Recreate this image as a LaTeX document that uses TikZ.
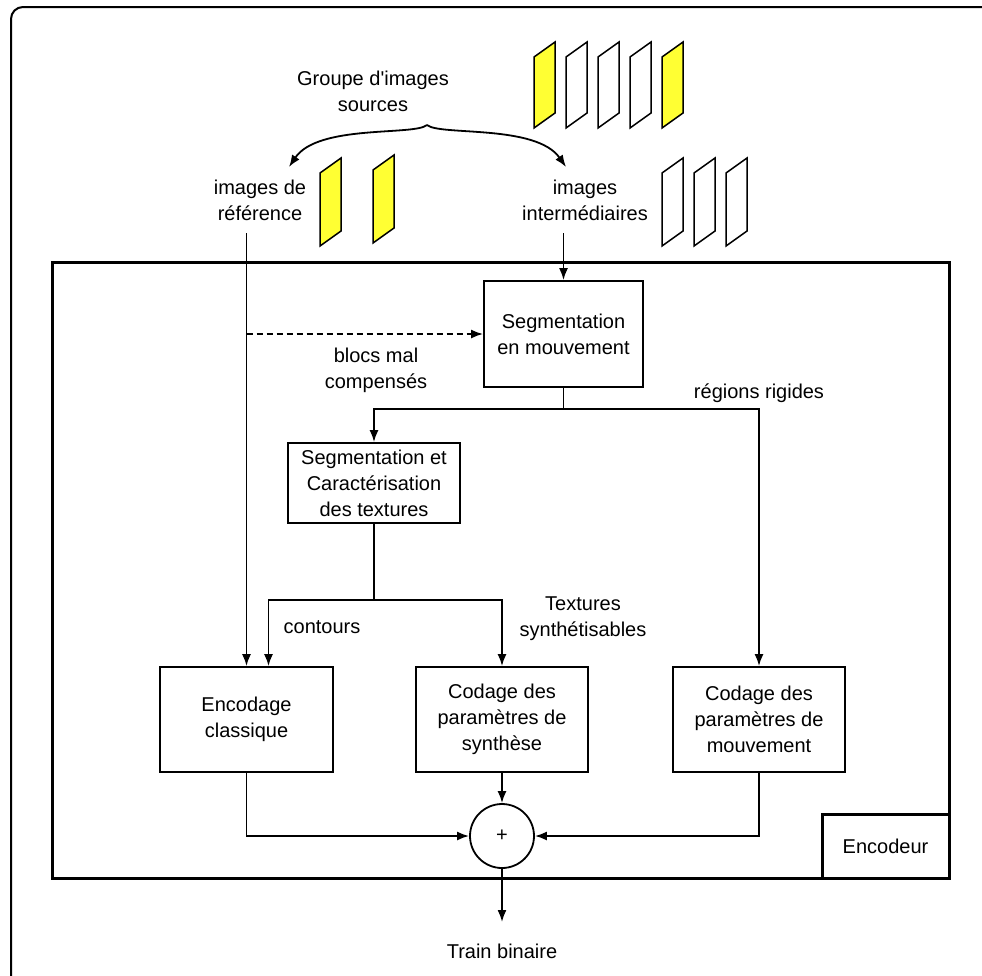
\documentclass[tikz,border=0pt]{standalone}
\usepackage{fontspec}
\setmainfont{Liberation Sans}
\usepackage{tikz}
\usetikzlibrary{
  arrows.meta,
  positioning,
  calc,
}
\definecolor{imgyellow}{HTML}{FFFF33}

\begin{document}
\begin{tikzpicture}[
    x=1pt, y=-1pt,
    block/.style={draw, line width=1.8pt, align=center, inner sep=0pt,
                  font=\fontsize{20}{26}\selectfont},
    txt/.style={align=center, inner sep=0pt, font=\fontsize{20}{26}\selectfont},
    arr/.style={-{Latex[length=12pt,width=9pt]}, line width=1.8pt},
    wire/.style={line width=1.8pt},
    img/.style={line width=1.5pt, line join=miter},
  ]
  \useasboundingbox (0,0) rectangle (982,975);
  \draw[line width=2pt, rounded corners=12pt] (11,7) rectangle (1000,995);

  % images sources
  \foreach \x/\c in {534/imgyellow, 566/white, 598/white, 630/white, 662/imgyellow}
    \draw[img, fill=\c] (\x,57) -- ++(21,-15) -- ++(0,71) -- ++(-21,15) -- cycle;
  \foreach \x/\y in {320/173, 373/170}
    \draw[img, fill=imgyellow] (\x,\y) -- ++(21,-15) -- ++(0,73) -- ++(-21,15) -- cycle;
  \foreach \x in {662, 694, 726}
    \draw[img, fill=white] (\x,173) -- ++(21,-15) -- ++(0,73) -- ++(-21,15) -- cycle;

  \node[txt] (group)  at (373,91)  {Groupe d\textquotesingle images\\sources};
  \node[txt] (refs)   at (260,200) {images de\\référence};
  \node[txt] (inters) at (585,200) {images\\intermédiaires};

  \coordinate (cusp) at (427,125);
  \draw[arr] (cusp) .. controls (414,136) and (318,124) .. (289,167);
  \draw[arr] (cusp) .. controls (440,136) and (536,124) .. (566,167);

  % encodeur
  \draw[line width=3pt] (52,262) rectangle (949,878);
  \node[block, line width=3pt, minimum width=127, minimum height=64] (encodeur)
    at (885.5,846) {Encodeur};

  \node[block, minimum width=159, minimum height=106] (seg) at (563.5,334)
    {Segmentation\\en mouvement};
  \node[block, minimum width=172, minimum height=80] (tex) at (374,483)
    {Segmentation et\\Caractérisation\\des textures};
  \node[block, minimum width=173, minimum height=105] (enc) at (246.5,719.5)
    {Encodage\\classique};
  \node[block, minimum width=172, minimum height=105] (syn) at (502,719.5)
    {Codage des\\paramètres de\\synthèse};
  \node[block, minimum width=172, minimum height=105] (mvt) at (759,719.5)
    {Codage des\\paramètres de\\mouvement};
  \node[draw, circle, line width=1.8pt, minimum size=64, inner sep=0pt,
        font=\fontsize{20}{26}\selectfont] (sum) at (502,836) {+};

  \node[txt] (blocs)    at (376,370) {blocs mal\\compensés};
  \node[txt] (rigid)    at (759,393) {régions rigides};
  \node[txt] (contours) at (322,627) {contours};
  \node[txt] (textures) at (583,619) {Textures\\synthétisables};
  \node[txt] (train)    at (502,951) {Train binaire};

  \coordinate (reftop)   at (246.5,233);
  \coordinate (intertop) at (563.5,233);
  \coordinate (split1)   at (563.5,409);
  \coordinate (split2)   at (374,600);
  \coordinate (out)      at (502,922);

  \draw[arr] (intertop) -- (seg.north);
  \draw[arr] (reftop) -- (enc.north);
  \draw[arr, dash pattern=on 6pt off 4pt] (reftop |- seg.west) -- (seg.west);

  \draw[wire] (seg.south) -- (split1);
  \draw[arr] (split1) -| (tex.north);
  \draw[arr] (split1) -| (mvt.north);

  \draw[wire] (tex.south) -- (split2);
  \draw[arr] (split2) -| ([xshift=22pt]enc.north);
  \draw[arr] (split2) -| (syn.north);

  \draw[arr] (enc.south) |- (sum.west);
  \draw[arr] (mvt.south) |- (sum.east);
  \draw[arr] (syn.south) -- (sum.north);
  \draw[arr] (sum.south) -- (out);
\end{tikzpicture}
\end{document}
